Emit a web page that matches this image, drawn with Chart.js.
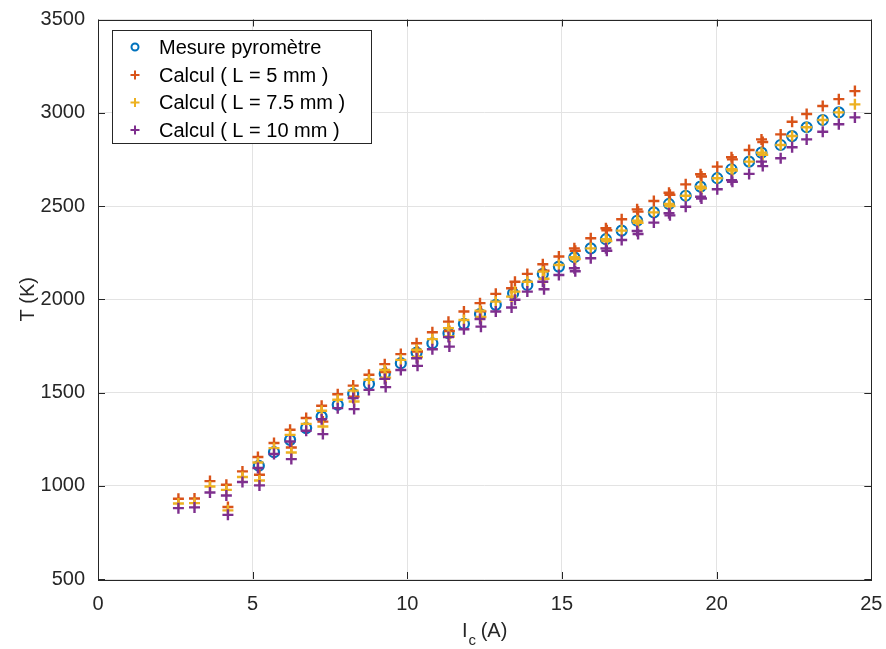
<!DOCTYPE html>
<html>
<head>
<meta charset="utf-8">
<script src="https://cdn.jsdelivr.net/npm/chart.js@4.4.1/dist/chart.umd.min.js"></script>
<style>
  html, body { margin: 0; padding: 0; background: #fff; }
  #wrap { width: 886px; height: 649px; }
</style>
</head>
<body>
<div id="wrap"><canvas id="tempChart" width="886" height="649"></canvas></div>
<script>
// Courant (A) des points de calcul
const calcCurrent = [2.60, 3.12, 3.62, 4.15, 4.20, 4.67, 5.17, 5.22, 5.69, 6.21, 6.25, 6.73, 7.23, 7.27, 7.75,
    8.25, 8.28, 8.76, 9.27, 9.30, 9.79, 10.30, 10.33, 10.81, 11.33, 11.36, 11.83, 12.35, 12.38, 12.86,
    13.37, 13.48, 13.88, 14.38, 14.42, 14.90, 15.40, 15.43, 15.93, 16.42, 16.45, 16.93, 17.43, 17.46,
    17.97, 18.46, 18.49, 19.00, 19.48, 19.51, 20.02, 20.48, 20.51, 21.05, 21.45, 21.49, 22.07, 22.44,
    22.91, 23.43, 23.95, 24.47];

// Temperatures calculees (K) pour L = 5 mm
const calcL5 = [930, 932, 1025, 1005, 886, 1077, 1154, 1059, 1229, 1300, 1205, 1363, 1429, 1344, 1491,
    1537, 1478, 1595, 1652, 1610, 1706, 1764, 1720, 1823, 1880, 1830, 1934, 1979, 1935, 2029,
    2059, 2094, 2136, 2188, 2153, 2229, 2273, 2260, 2327, 2381, 2370, 2429, 2482, 2470,
    2527, 2571, 2560, 2616, 2670, 2658, 2711, 2761, 2750, 2800, 2857, 2843, 2884, 2952,
    2993, 3036, 3073, 3116];

// L = 7.5 mm
const calcL75 = [905, 907, 996, 978, 868, 1047, 1125, 1028, 1202, 1273, 1178, 1332, 1402, 1318, 1461,
    1510, 1452, 1568, 1621, 1580, 1675, 1729, 1690, 1786, 1845, 1800, 1889, 1939, 1905, 1987,
    2014, 2041, 2094, 2148, 2110, 2184, 2225, 2215, 2273, 2322, 2312, 2368, 2421, 2410,
    2466, 2511, 2500, 2555, 2604, 2595, 2649, 2697, 2690, 2738, 2786, 2775, 2827, 2875,
    2922, 2961, 3002, 3045];

// L = 10 mm
const calcL10 = [880, 884, 964, 948, 844, 1020, 1095, 1002, 1170, 1237, 1143, 1295, 1357, 1277, 1416,
    1470, 1411, 1514, 1573, 1529, 1621, 1684, 1643, 1732, 1797, 1746, 1839, 1894, 1853, 1934,
    1956, 1997, 2041, 2094, 2054, 2130, 2166, 2150, 2220, 2273, 2260, 2318, 2366, 2350,
    2411, 2461, 2450, 2496, 2550, 2540, 2590, 2639, 2630, 2672, 2738, 2714, 2756, 2815,
    2857, 2898, 2938, 2975];

// Mesure pyrometre
const mesCurrent = [5.20, 5.69, 6.21, 6.73, 7.23, 7.75, 8.25, 8.76, 9.27, 9.79, 10.30, 10.81, 11.33, 11.83,
    12.35, 12.86, 13.42, 13.88, 14.38, 14.90, 15.40, 15.93, 16.42, 16.93, 17.43, 17.97, 18.46,
    19.00, 19.48, 20.02, 20.48, 21.05, 21.45, 22.07, 22.44, 22.91, 23.43, 23.95];
const mesTemp = [1107, 1180, 1246, 1309, 1371, 1434, 1493, 1546, 1600, 1657, 1714, 1764, 1818, 1868,
    1921, 1970, 2032, 2077, 2136, 2175, 2225, 2273, 2322, 2368, 2421, 2466, 2511,
    2555, 2604, 2649, 2697, 2738, 2786, 2827, 2875, 2922, 2961, 3002];

const xTicks = [0, 5, 10, 15, 20, 25];
const yTicks = [500, 1000, 1500, 2000, 2500, 3000, 3500];

const axisColor = '#262626';
const fontFamily = '"Liberation Sans", Arial, Helvetica, sans-serif';

function toPoints(xs, ys) {
    return xs.map((x, i) => ({ x: x, y: ys[i] }));
}

// no extra label padding, the layout padding alone places the plot box
function noLabelPadding(scale) {
    scale.paddingLeft = 0;
    scale.paddingRight = 0;
    scale.paddingTop = 0;
    scale.paddingBottom = 0;
}

// Cadre, graduations interieures, legende et titre de l'axe x (avec indice)
const matlabStyle = {
    id: 'matlabStyle',
    afterDraw(chart) {
        const ctx = chart.ctx;
        const area = chart.chartArea;
        const xs = chart.scales.x;
        const ys = chart.scales.y;
        const tick = 7;

        ctx.save();
        ctx.strokeStyle = axisColor;
        ctx.lineWidth = 1;
        ctx.beginPath();
        xTicks.forEach(v => {
            const px = Math.round(xs.getPixelForValue(v)) + 0.5;
            ctx.moveTo(px, area.bottom); ctx.lineTo(px, area.bottom - tick);
            ctx.moveTo(px, area.top); ctx.lineTo(px, area.top + tick);
        });
        yTicks.forEach(v => {
            const py = Math.round(ys.getPixelForValue(v)) + 0.5;
            ctx.moveTo(area.left, py); ctx.lineTo(area.left + tick, py);
            ctx.moveTo(area.right, py); ctx.lineTo(area.right - tick, py);
        });
        ctx.stroke();
        ctx.strokeRect(Math.round(area.left) + 0.5, Math.round(area.top) + 0.5,
            Math.round(area.right - area.left), Math.round(area.bottom - area.top));

        // Legende
        const lx = 112.5, ly = 30.5, lw = 259, lh = 113;
        ctx.fillStyle = '#fff';
        ctx.fillRect(lx, ly, lw, lh);
        ctx.strokeRect(lx, ly, lw, lh);
        const rows = [47, 75, 102.5, 130];
        ctx.font = '20px ' + fontFamily;
        ctx.textBaseline = 'middle';
        ctx.textAlign = 'left';
        chart.data.datasets.forEach((ds, i) => {
            const cy = rows[i];
            const cx = 135;
            ctx.strokeStyle = ds.borderColor;
            ctx.lineWidth = 2;
            ctx.beginPath();
            if (ds.pointStyle === 'circle') {
                ctx.arc(cx, cy, 3.5, 0, Math.PI * 2);
            } else {
                ctx.moveTo(cx - 4.5, cy); ctx.lineTo(cx + 4.5, cy);
                ctx.moveTo(cx, cy - 4.5); ctx.lineTo(cx, cy + 4.5);
            }
            ctx.stroke();
            ctx.fillStyle = '#000';
            ctx.fillText(ds.label, 159, cy + 1);
        });

        // Titre x : I_c (A)
        ctx.fillStyle = axisColor;
        ctx.textBaseline = 'alphabetic';
        const mainFont = '20px ' + fontFamily;
        const subFont = '15px ' + fontFamily;
        ctx.font = mainFont;
        const wI = ctx.measureText('I').width;
        const wRest = ctx.measureText(' (A)').width;
        ctx.font = subFont;
        const wC = ctx.measureText('c').width;
        const total = wI + wC + wRest;
        let x0 = (area.left + area.right) / 2 - total / 2;
        const base = 637;
        ctx.font = mainFont;
        ctx.fillText('I', x0, base);
        ctx.font = subFont;
        ctx.fillText('c', x0 + wI + 1, base + 8);
        ctx.font = mainFont;
        ctx.fillText(' (A)', x0 + wI + wC, base);
        ctx.restore();
    }
};

const ctx = document.getElementById('tempChart').getContext('2d');

new Chart(ctx, {
    type: 'scatter',
    data: {
        datasets: [
            {
                label: 'Mesure pyromètre',
                data: toPoints(mesCurrent, mesTemp),
                pointStyle: 'circle',
                borderColor: '#0072BD',
                backgroundColor: 'rgba(0,0,0,0)',
                pointRadius: 5,
                borderWidth: 2.2,
                order: 3
            },
            {
                label: 'Calcul ( L = 5 mm )',
                data: toPoints(calcCurrent, calcL5),
                pointStyle: 'cross',
                borderColor: '#D95319',
                backgroundColor: '#D95319',
                pointRadius: 5.5,
                borderWidth: 2.4,
                order: 2
            },
            {
                label: 'Calcul ( L = 7.5 mm )',
                data: toPoints(calcCurrent, calcL75),
                pointStyle: 'cross',
                borderColor: '#EDB120',
                backgroundColor: '#EDB120',
                pointRadius: 5.5,
                borderWidth: 2.4,
                order: 1
            },
            {
                label: 'Calcul ( L = 10 mm )',
                data: toPoints(calcCurrent, calcL10),
                pointStyle: 'cross',
                borderColor: '#7E2F8E',
                backgroundColor: '#7E2F8E',
                pointRadius: 5.5,
                borderWidth: 2.4,
                order: 0
            }
        ]
    },
    options: {
        responsive: false,
        animation: false,
        layout: {
            padding: { left: 0, top: 19.5, right: 14.7, bottom: 0 }
        },
        plugins: {
            legend: { display: false },
            tooltip: { enabled: false }
        },
        scales: {
            x: {
                type: 'linear',
                min: 0,
                max: 25,
                afterBuildTicks: (scale) => { scale.ticks = xTicks.map(v => ({ value: v })); },
                afterFit: (scale) => { scale.height = 70; noLabelPadding(scale); },
                grid: { color: '#e3e3e3', drawTicks: false },
                border: { display: false },
                ticks: {
                    padding: 13,
                    color: axisColor,
                    font: { family: fontFamily, size: 20 },
                    callback: (v) => String(v)
                },
                title: { display: false }
            },
            y: {
                type: 'linear',
                min: 500,
                max: 3500,
                afterBuildTicks: (scale) => { scale.ticks = yTicks.map(v => ({ value: v })); },
                afterFit: (scale) => { scale.width = 98; noLabelPadding(scale); },
                grid: { color: '#e3e3e3', drawTicks: false },
                border: { display: false },
                ticks: {
                    padding: 13,
                    color: axisColor,
                    font: { family: fontFamily, size: 20 },
                    callback: (v) => String(v)
                },
                title: {
                    display: true,
                    text: 'T (K)',
                    color: axisColor,
                    padding: { top: 16, bottom: 0 },
                    font: { family: fontFamily, size: 20 }
                }
            }
        }
    },
    plugins: [matlabStyle]
});
</script>
</body>
</html>
